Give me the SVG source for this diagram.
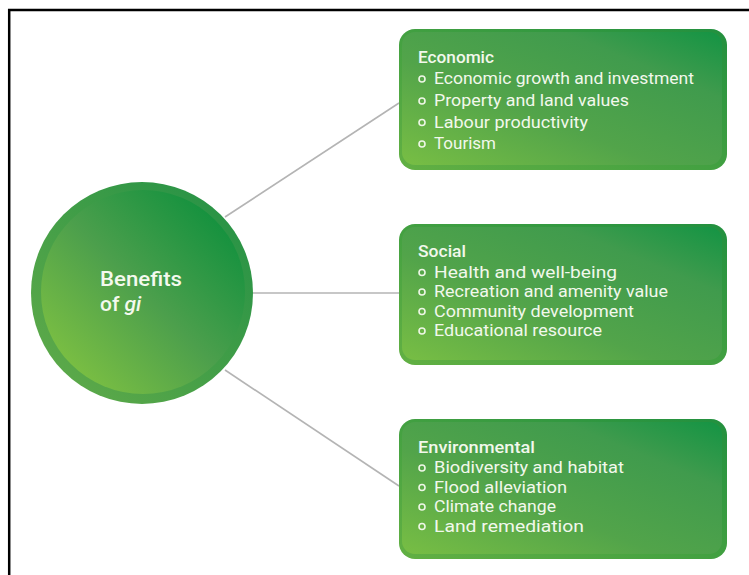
<svg xmlns="http://www.w3.org/2000/svg" width="749" height="575" viewBox="0 0 749 575">
  <defs>
    <linearGradient id="boxFill" x1="0" y1="1" x2="1" y2="0">
      <stop offset="0" stop-color="#78be44"/>
      <stop offset="0.4" stop-color="#52a44a"/>
      <stop offset="0.75" stop-color="#409b4d"/>
      <stop offset="1" stop-color="#149444"/>
    </linearGradient>
    <linearGradient id="boxEdge" x1="0" y1="1" x2="1" y2="0">
      <stop offset="0" stop-color="#62b043"/>
      <stop offset="1" stop-color="#22903f"/>
    </linearGradient>
    <linearGradient id="discFill" x1="0.15" y1="0.85" x2="0.85" y2="0.15">
      <stop offset="0" stop-color="#78bd43"/>
      <stop offset="0.5" stop-color="#4c9f4c"/>
      <stop offset="1" stop-color="#17923f"/>
    </linearGradient>
    <linearGradient id="discRing" x1="0.15" y1="0.85" x2="0.85" y2="0.15">
      <stop offset="0" stop-color="#5aa849"/>
      <stop offset="1" stop-color="#2b9446"/>
    </linearGradient>
    <symbol id="bullet" overflow="visible">
      <circle cx="0" cy="0" r="3" fill="none" stroke="#eef6e6" stroke-width="1.6"/>
    </symbol>
  </defs>
  <style>
    .frame { fill: none; stroke: #000; stroke-width: 2.5; }
    .link { stroke: #b4b4b4; stroke-width: 1.6; fill: none; }
    .box-edge { fill: url(#boxEdge); }
    .box-body { fill: url(#boxFill); }
    .title { font-family: Roboto, "Open Sans", "Liberation Sans", sans-serif; font-weight: 500; font-size: 16.5px; fill: #f2f8ec; }
    .item { font-family: Roboto, "Open Sans", "Liberation Sans", sans-serif; font-size: 16.5px; fill: #f2f8ec; }
    .hub { font-family: Roboto, "Open Sans", "Liberation Sans", sans-serif; font-weight: 500; font-size: 21px; fill: #f4f9ee; }
  </style>

  <rect width="749" height="575" fill="#ffffff"/>
  <!-- page frame: top and left rules -->
  <path class="frame" d="M9.2 575 V10 H749"/>

  <!-- connectors from hub to the three category boxes -->
  <g id="connectors">
    <line class="link" x1="225" y1="217" x2="399" y2="103"/>
    <line class="link" x1="253" y1="293" x2="399" y2="293"/>
    <line class="link" x1="225" y1="370" x2="399" y2="486"/>
  </g>

  <!-- hub disc -->
  <g id="hub">
    <circle cx="142" cy="293" r="111" fill="url(#discRing)"/>
    <circle cx="143" cy="292" r="102" fill="url(#discFill)"/>
    <text class="hub" x="100" y="286" textLength="82" lengthAdjust="spacingAndGlyphs">Benefits</text>
    <text class="hub" x="100" y="311">of <tspan font-style="italic">gi</tspan></text>
  </g>

  <!-- Economic -->
  <g id="economic">
    <rect class="box-edge" x="399" y="29" width="328" height="141" rx="16"/>
    <rect class="box-body" x="402" y="32" width="320" height="133" rx="13"/>
    <text class="title" x="418" y="62.5" textLength="76" lengthAdjust="spacingAndGlyphs">Economic</text>
    <use href="#bullet" x="422" y="79"/>
    <text class="item" x="434" y="84" textLength="260" lengthAdjust="spacingAndGlyphs">Economic growth and investment</text>
    <use href="#bullet" x="422" y="101"/>
    <text class="item" x="434" y="106" textLength="195" lengthAdjust="spacingAndGlyphs">Property and land values</text>
    <use href="#bullet" x="422" y="122.5"/>
    <text class="item" x="434" y="127.5" textLength="154" lengthAdjust="spacingAndGlyphs">Labour productivity</text>
    <use href="#bullet" x="422" y="144"/>
    <text class="item" x="434" y="149" textLength="62" lengthAdjust="spacingAndGlyphs">Tourism</text>
  </g>

  <!-- Social -->
  <g id="social">
    <rect class="box-edge" x="399" y="224" width="328" height="141" rx="16"/>
    <rect class="box-body" x="402" y="227" width="320" height="133" rx="13"/>
    <text class="title" x="418" y="257" textLength="48" lengthAdjust="spacingAndGlyphs">Social</text>
    <use href="#bullet" x="422" y="272.5"/>
    <text class="item" x="434" y="277.5" textLength="183" lengthAdjust="spacingAndGlyphs">Health and well-being</text>
    <use href="#bullet" x="422" y="292"/>
    <text class="item" x="434" y="297" textLength="234" lengthAdjust="spacingAndGlyphs">Recreation and amenity value</text>
    <use href="#bullet" x="422" y="311.5"/>
    <text class="item" x="434" y="316.5" textLength="200" lengthAdjust="spacingAndGlyphs">Community development</text>
    <use href="#bullet" x="422" y="331"/>
    <text class="item" x="434" y="336" textLength="168" lengthAdjust="spacingAndGlyphs">Educational resource</text>
  </g>

  <!-- Environmental -->
  <g id="environmental">
    <rect class="box-edge" x="399" y="419" width="328" height="140" rx="16"/>
    <rect class="box-body" x="402" y="422" width="320" height="132" rx="13"/>
    <text class="title" x="418" y="453" textLength="117" lengthAdjust="spacingAndGlyphs">Environmental</text>
    <use href="#bullet" x="422" y="468"/>
    <text class="item" x="434" y="473" textLength="190" lengthAdjust="spacingAndGlyphs">Biodiversity and habitat</text>
    <use href="#bullet" x="422" y="487.5"/>
    <text class="item" x="434" y="492.5" textLength="133" lengthAdjust="spacingAndGlyphs">Flood alleviation</text>
    <use href="#bullet" x="422" y="507"/>
    <text class="item" x="434" y="512" textLength="122" lengthAdjust="spacingAndGlyphs">Climate change</text>
    <use href="#bullet" x="422" y="526.5"/>
    <text class="item" x="434" y="531.5" textLength="150" lengthAdjust="spacingAndGlyphs">Land remediation</text>
  </g>
</svg>
